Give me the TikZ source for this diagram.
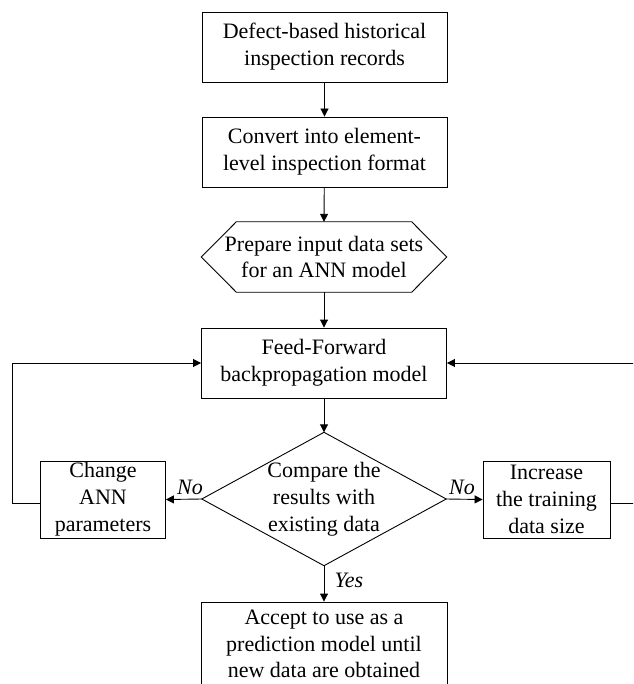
\documentclass[tikz,border=0pt]{standalone}
\usepackage{fontspec}
\setmainfont{Liberation Serif}
\usetikzlibrary{arrows.meta}
\begin{document}
\begin{tikzpicture}[x=1pt,y=-1pt,
  txt/.style={font=\fontsize{22}{26.8}\selectfont, align=center, inner sep=0pt},
  box/.style={txt, draw, line width=0.9pt, minimum width=245pt, minimum height=70pt},
  arr/.style={line width=0.9pt, -{Triangle[length=8pt,width=8pt]}},
  lbl/.style={font=\fontsize{22}{26.8}\selectfont\itshape, inner sep=0pt}]
\useasboundingbox (0,0) rectangle (633,684);
\clip (0,0) rectangle (633,684);
\node[box] (rec) at (324.5,47) {Defect-based historical\\inspection records};
\node[box] (conv) at (324.5,152) {Convert into element-\\level inspection format};
\node[txt, minimum width=245pt, minimum height=70pt] (prep) at (324,257) {Prepare input data sets\\for an ANN model};
\draw[line width=0.9pt] (prep.west) -- ([xshift=35pt]prep.north west) -- ([xshift=-35pt]prep.north east) -- (prep.east) -- ([xshift=-35pt]prep.south east) -- ([xshift=35pt]prep.south west) -- cycle;
\node[box] (ffbp) at (324,363) {Feed-Forward\\backpropagation model};
\node[txt, minimum width=244pt, minimum height=133pt] (cmp) at (324,499) {Compare the\\results with\\existing data};
\draw[line width=0.9pt] (cmp.north) -- (cmp.east) -- (cmp.south) -- (cmp.west) -- cycle;
\node[box, minimum width=125pt, minimum height=77pt] (chg) at (103,499.5) {Change\\ANN\\parameters};
\node[box, minimum width=127pt, minimum height=77pt] (inc) at (546.5,499.5) {Increase\\the training\\data size};
\node[box, minimum width=246pt, minimum height=84pt] (acc) at (324,644) {Accept to use as a\\prediction model until\\new data are obtained};
\draw[arr] (rec) -- (conv);
\draw[arr] (conv) -- (prep.north);
\draw[arr] (prep.south) -- (ffbp);
\draw[arr] (ffbp) -- (cmp.north);
\draw[arr] (cmp.west) -- (chg.east);
\draw[arr] (cmp.east) -- (inc.west);
\draw[arr] (cmp.south) -- (acc.north);
\node[lbl] (no1) at (190,487) {No};
\node[lbl] (no2) at (462,487) {No};
\node[lbl] (yes) at (349,580) {Yes};
\coordinate (lc) at (12,503);
\coordinate (rc) at (642,503);
\draw[arr] ([yshift=-3.5pt]chg.west) -- (lc) |- (ffbp.west);
\draw[arr] ([yshift=-3.5pt]inc.east) -- (rc) |- (ffbp.east);
\end{tikzpicture}
\end{document}
